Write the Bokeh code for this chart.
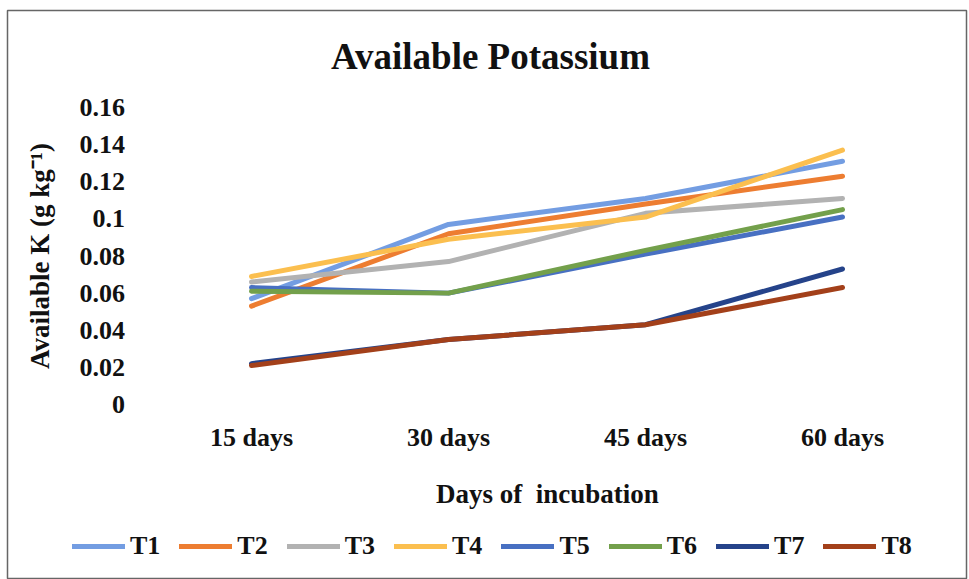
from bokeh.plotting import figure
from bokeh.models import Range1d, FixedTicker, Legend, LegendItem, Label
from bokeh.embed import file_html
from bokeh.resources import INLINE

# Incubation periods (x categories)
days = ["15 days", "30 days", "45 days", "60 days"]

# Available K (g/kg) for each treatment
T1 = [0.057, 0.097, 0.111, 0.131]
T2 = [0.053, 0.092, 0.108, 0.123]
T3 = [0.066, 0.077, 0.103, 0.111]
T4 = [0.069, 0.089, 0.101, 0.137]
T5 = [0.063, 0.060, 0.081, 0.101]
T6 = [0.061, 0.060, 0.083, 0.105]
T7 = [0.022, 0.035, 0.043, 0.073]
T8 = [0.021, 0.035, 0.043, 0.063]

series_names = ["T1", "T2", "T3", "T4", "T5", "T6", "T7", "T8"]
series_values = [T1, T2, T3, T4, T5, T6, T7, T8]
colors = ["#739DE2", "#ED7D31", "#B2B2B2", "#FBBF4F",
          "#4870C2", "#73A04B", "#25438A", "#A3401A"]

y_ticks = [0, 0.02, 0.04, 0.06, 0.08, 0.1, 0.12, 0.14, 0.16]
y_tick_labels = ["0", "0.02", "0.04", "0.06", "0.08", "0.1", "0.12", "0.14", "0.16"]

FONT = "Liberation Serif"
INK = "#111111"

# Page geometry (pixels): the bordered chart box and the plotting area inside it
W, H = 969, 579
BOX_L, BOX_T, BOX_R = 7, 10, 966
PLOT_L, PLOT_R, PLOT_T, PLOT_B = 152.5, 940.5, 107, 404

x_pos = list(range(len(days)))
step = (PLOT_R - PLOT_L) / len(days)            # pixels per category
x_start = -0.5 - (PLOT_L - BOX_L) / step
x_end = len(days) - 0.5 + (BOX_R - PLOT_R) / step
y_top = y_ticks[-1]
per_unit = (PLOT_B - PLOT_T) / y_top            # pixels per g/kg
y_start = -(H - PLOT_B) / per_unit
y_end = y_top + (PLOT_T - BOX_T) / per_unit

p = figure(width=W, height=H, x_range=Range1d(x_start, x_end), y_range=Range1d(y_start, y_end),
           output_backend="svg", toolbar_location=None,
           min_border_left=BOX_L, min_border_right=W - BOX_R, min_border_top=BOX_T, min_border_bottom=0)

p.outline_line_color = "#666666"
p.outline_line_width = 1.5
p.xgrid.visible = False
p.ygrid.visible = False

for ax in (p.xaxis[0], p.yaxis[0]):
    ax.axis_line_color = None
    ax.major_tick_line_color = None
    ax.minor_tick_line_color = None
    ax.major_label_text_font = FONT
    ax.major_label_text_font_style = "bold"
    ax.major_label_text_font_size = "26px"
    ax.major_label_text_color = INK
    ax.axis_label_text_font = FONT
    ax.axis_label_text_font_style = "bold"
    ax.axis_label_text_font_size = "27px"
    ax.axis_label_text_color = INK

# y axis drawn at the left edge of the plotting area
p.yaxis.fixed_location = -0.5
p.yaxis.bounds = (y_ticks[0], y_ticks[-1])
p.yaxis.ticker = FixedTicker(ticks=y_ticks)
p.yaxis.major_label_overrides = {t: s for t, s in zip(y_ticks, y_tick_labels)}
p.yaxis.major_label_standoff = 22
p.yaxis.axis_label = "Available K (g kg\u207b\u00b9)"
p.yaxis.axis_label_standoff = 22

# x axis drawn along y = 0
p.xaxis.fixed_location = 0
p.xaxis.bounds = (-0.5, len(days) - 0.5)
p.xaxis.ticker = FixedTicker(ticks=x_pos)
p.xaxis.major_label_overrides = {i: d for i, d in zip(x_pos, days)}
p.xaxis.major_label_standoff = 12
p.xaxis.axis_label = "Days of\u00a0 incubation"
p.xaxis.axis_label_standoff = 24

items = []
for name, vals, col in zip(series_names, series_values, colors):
    r = p.line(x_pos, vals, line_color=col, line_width=5, line_cap="round", line_join="round")
    items.append(LegendItem(label=name, renderers=[r]))

legend = Legend(items=items, orientation="horizontal", location=(72 - BOX_L, 18),
                glyph_width=53, glyph_height=26, label_standoff=5, spacing=19,
                padding=0, margin=0, border_line_color=None, background_fill_alpha=0,
                label_text_font=FONT, label_text_font_style="bold",
                label_text_font_size="26px", label_text_color=INK)
p.add_layout(legend, "center")

title = Label(x=490 - BOX_L, y=H - 56, x_units="screen", y_units="screen",
              text="Available Potassium", text_font=FONT, text_font_style="bold",
              text_font_size="37px", text_color=INK,
              text_align="center", text_baseline="middle")
p.add_layout(title)

open("out.html", "w").write(file_html(p, INLINE))
